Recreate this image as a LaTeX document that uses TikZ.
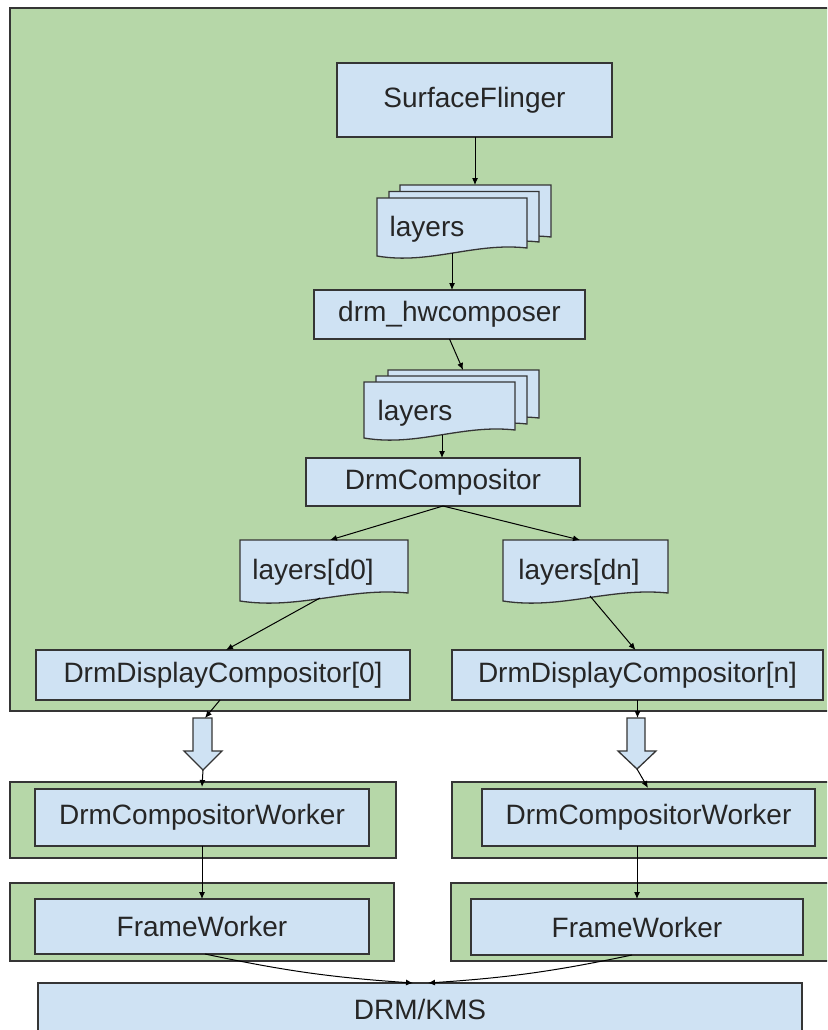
\documentclass[tikz,border=0pt]{standalone}
\usepackage{fontspec}
\setmainfont{Liberation Sans}
\usetikzlibrary{arrows.meta,calc}
\definecolor{grn}{HTML}{B6D7A8}
\definecolor{blu}{HTML}{CFE2F3}
\definecolor{edge}{HTML}{353535}
\newcommand{\docshape}[4]{\path[doc] (#1,#2) -- (#1+#3,#2) -- (#1+#3,#4-8) .. controls (#1+0.65*#3,#4-14) and (#1+0.35*#3,#4+9) .. (#1,#4) -- cycle;}
\begin{document}
\begin{tikzpicture}[x=1pt,y=-1pt,
  box/.style={draw=edge, line width=1.3pt, fill=blu, inner sep=0pt, outer sep=0pt, font=\fontsize{28}{32}\selectfont, text=black!85},
  area/.style={draw=edge, line width=1.3pt, fill=grn},
  doc/.style={draw=edge, line width=1.3pt, fill=blu},
  conn/.style={draw=black, line width=1pt, -{Latex[length=7pt,width=6pt]}},
  lbl/.style={font=\fontsize{28}{32}\selectfont, text=black!85, inner sep=0pt}]
\useasboundingbox (0,0) rectangle (827,1030);
\clip (0,0) rectangle (827,1030);
\fill[white] (0,0) rectangle (827,1030);

% green areas
\path[area] (10,8) rectangle (840,711);
\path[area] (10,782) rectangle (396,858);
\path[area] (452,782) rectangle (840,858);
\path[area] (10,883) rectangle (394,961);
\path[area] (451,883) rectangle (840,961);

% boxes
\node[box, minimum width=275pt, minimum height=74pt] (sf) at (474.5,100) {SurfaceFlinger};
\node[box, minimum width=271pt, minimum height=49pt] (dhw) at (449.5,314.5) {drm\_hwcomposer};
\node[box, minimum width=274pt, minimum height=48pt] (dc) at (443,482) {DrmCompositor};
\node[box, minimum width=374pt, minimum height=50pt] (ddc0) at (223,675) {DrmDisplayCompositor[0]};
\node[box, minimum width=371pt, minimum height=50pt] (ddcn) at (637.5,675) {DrmDisplayCompositor[n]};
\node[box, minimum width=334pt, minimum height=57pt] (dcwl) at (202,817.5) {DrmCompositorWorker};
\node[box, minimum width=333pt, minimum height=57pt] (dcwr) at (648.5,817.5) {DrmCompositorWorker};
\node[box, minimum width=334pt, minimum height=55pt] (fwl) at (202,926.5) {FrameWorker};
\node[box, minimum width=332pt, minimum height=56pt] (fwr) at (637,927) {FrameWorker};
\node[box, minimum width=764pt, minimum height=52pt] (drm) at (420,1009) {DRM/KMS};

% layer stacks
\docshape{400}{185}{151}{245}
\docshape{389}{191.5}{150}{250}
\docshape{377}{198}{150}{256}
\node[lbl, anchor=base] (l1) at (427,236) {layers};
\coordinate (s1top) at (475,185);
\coordinate (s1bot) at (452,253);

\docshape{388}{370}{151}{426}
\docshape{376}{376}{151}{432}
\docshape{364}{382}{151}{438}
\node[lbl, anchor=base] (l2) at (415,420) {layers};
\coordinate (s2top) at (463,370);
\coordinate (s2bot) at (442,435);

\docshape{240}{540}{168}{601}
\node[lbl, anchor=base] (ld0) at (313,579) {layers[d0]};
\coordinate (d0top) at (330,540);
\coordinate (d0bot) at (320,598);

\docshape{503}{540}{165}{601}
\node[lbl, anchor=base] (ldn) at (579,579) {layers[dn]};
\coordinate (dntop) at (580,540);
\coordinate (dnbot) at (590,596);

% block arrows
\path[doc] (193,718) -- (212,718) -- (212,751) -- (222,751) -- (203,770) -- (184,751) -- (193,751) -- cycle;
\coordinate (batop) at (205,718);
\coordinate (batip) at (203,770);
\coordinate (bain) at (202,787);
\path[doc] (627,718) -- (645,718) -- (645,751) -- (656,751) -- (637,769) -- (618,751) -- (627,751) -- cycle;
\coordinate (bbtop) at (637.5,718);
\coordinate (bbtip) at (637,769);
\coordinate (bbin) at (648,788);

% connectors
\draw[conn] (sf.south -| s1top) -- (s1top);
\draw[conn] (s1bot) -- (s1bot |- dhw.north);
\draw[conn] (dhw.south) -- (s2top);
\draw[conn] (s2bot) -- (s2bot |- dc.north);
\draw[conn] (dc.south) -- (d0top);
\draw[conn] (dc.south) -- (dntop);
\draw[conn] (d0bot) -- ($(ddc0.north)+(3,0)$);
\draw[conn] (dnbot) -- ($(ddcn.north)+(-2,0)$);
\draw[conn] ($(ddc0.south)+(-3,0)$) -- (batop);
\draw[conn] (ddcn.south) -- (bbtop);
\draw[conn] (batip) -- (bain);
\draw[conn] (bbtip) -- (bbin);
\draw[conn] (dcwl.south) -- (fwl.north);
\draw[conn] (dcwr.south -| fwr.north) -- (fwr.north);
\draw[conn] ($(fwl.south)+(3,0)$) to[bend right=4] ($(drm.north)+(-7,0)$);
\draw[conn] ($(fwr.south)+(-5,0)$) to[bend left=4] ($(drm.north)+(8,0)$);
\end{tikzpicture}
\end{document}
